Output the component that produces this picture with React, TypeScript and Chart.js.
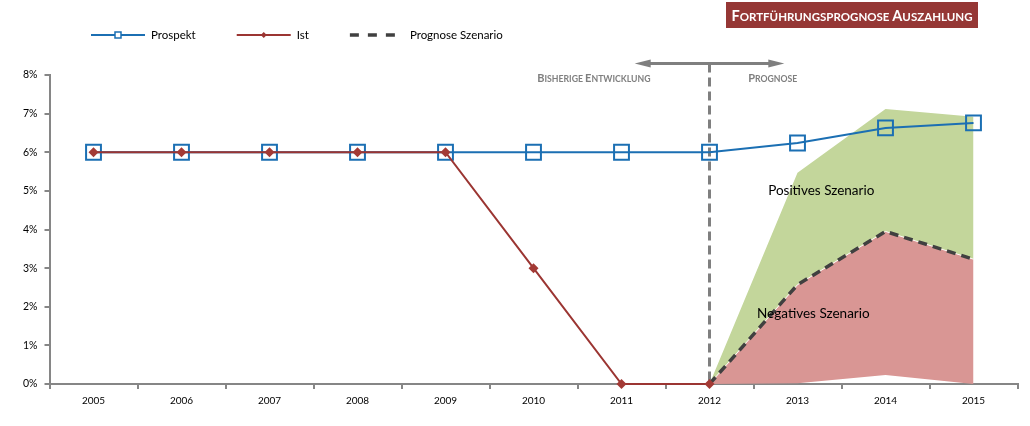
import React, { useEffect, useRef } from "react";
import { Chart, registerables } from "chart.js";

Chart.register(...registerables);

const years = ["2005", "2006", "2007", "2008", "2009", "2010", "2011", "2012", "2013", "2014", "2015"];
const prospekt = [6, 6, 6, 6, 6, 6, 6, 6, 6.24, 6.63, 6.76];
const ist = [6, 6, 6, 6, 6, 3, 0, 0, null, null, null];
const prognose = [null, null, null, null, null, null, null, 0, 2.57, 3.95, 3.23];
const negativUnten = [null, null, null, null, null, null, null, 0, 0.02, 0.23, 0];
const positivOben = [null, null, null, null, null, null, null, 0, 5.47, 7.12, 6.92];
const yMin = 0;
const yMax = 8;
const yStep = 1;

const titleText = "Fortführungsprognose Auszahlung";
const leftPhase = "Bisherige Entwicklung";
const rightPhase = "Prognose";
const posLabel = "Positives Szenario";
const negLabel = "Negatives Szenario";

const FONT = "Lato, 'Noto Sans', sans-serif";
const BLUE = "#1B6FB3";
const RED = "#9B3532";
const GREEN = "#C3D69B";
const PINK = "#D99694";
const DARK = "#404040";
const GRAY = "#868686";

function smallCaps(
  ctx: CanvasRenderingContext2D,
  text: string,
  x: number,
  y: number,
  big: number,
  small: number,
  color: string,
  align: "left" | "right" | "center"
) {
  const parts: { t: string; s: number }[] = [];
  text.split(" ").forEach((w, i) => {
    if (i > 0) parts.push({ t: " ", s: small });
    parts.push({ t: w.charAt(0).toUpperCase(), s: big });
    if (w.length > 1) parts.push({ t: w.slice(1).toUpperCase(), s: small });
  });
  let total = 0;
  const widths = parts.map((p) => {
    ctx.font = `bold ${p.s}px ${FONT}`;
    const w = ctx.measureText(p.t).width;
    total += w;
    return w;
  });
  let cx = align === "left" ? x : align === "right" ? x - total : x - total / 2;
  ctx.fillStyle = color;
  ctx.textBaseline = "alphabetic";
  ctx.textAlign = "left";
  parts.forEach((p, i) => {
    ctx.font = `bold ${p.s}px ${FONT}`;
    ctx.fillText(p.t, cx, y);
    cx += widths[i];
  });
  return total;
}

const annotPlugin = {
  id: "annotPlugin",
  beforeDatasetsDraw(chart: any) {
    const { ctx, scales } = chart;
    const x = scales.x.getPixelForValue(7);
    ctx.save();
    ctx.strokeStyle = "#7F7F7F";
    ctx.lineWidth = 3;
    ctx.setLineDash([9, 5]);
    ctx.beginPath();
    ctx.moveTo(x, scales.y.getPixelForValue(8.3));
    ctx.lineTo(x, scales.y.getPixelForValue(0));
    ctx.stroke();
    ctx.restore();
  },
  afterDraw(chart: any) {
    const { ctx, scales } = chart;
    const xs = scales.x;
    const ys = scales.y;
    ctx.save();
    // arrow
    const ay = ys.getPixelForValue(8.3);
    const ax1 = xs.getPixelForValue(7 - 0.85);
    const ax2 = xs.getPixelForValue(7 + 0.85);
    ctx.strokeStyle = "#7F7F7F";
    ctx.fillStyle = "#7F7F7F";
    ctx.lineWidth = 3;
    ctx.beginPath();
    ctx.moveTo(ax1 + 10, ay);
    ctx.lineTo(ax2 - 10, ay);
    ctx.stroke();
    ctx.beginPath();
    ctx.moveTo(ax1, ay);
    ctx.lineTo(ax1 + 16, ay - 4);
    ctx.lineTo(ax1 + 16, ay + 4);
    ctx.closePath();
    ctx.fill();
    ctx.beginPath();
    ctx.moveTo(ax2, ay);
    ctx.lineTo(ax2 - 16, ay - 4);
    ctx.lineTo(ax2 - 16, ay + 4);
    ctx.closePath();
    ctx.fill();
    // phase labels
    const ty = ys.getPixelForValue(8) + 7;
    smallCaps(ctx, leftPhase, xs.getPixelForValue(7 - 0.67), ty, 11, 8.7, "#7F7F7F", "right");
    smallCaps(ctx, rightPhase, xs.getPixelForValue(7 + 0.44), ty, 11, 8.7, "#7F7F7F", "left");
    // scenario labels
    ctx.fillStyle = "#000";
    ctx.font = `13.5px ${FONT}`;
    ctx.textAlign = "center";
    ctx.textBaseline = "middle";
    ctx.fillText(posLabel, xs.getPixelForValue(8.27), ys.getPixelForValue(5.0));
    ctx.fillText(negLabel, xs.getPixelForValue(8.18), ys.getPixelForValue(1.81));
    // title box
    ctx.fillStyle = "#953735";
    ctx.fillRect(726, 2, 252, 26);
    smallCaps(ctx, titleText, 852, 21, 14.5, 11.5, "#FFFFFF", "center");
    // legend
    let lx = 91;
    const ly = 35;
    ctx.font = `11.5px ${FONT}`;
    const items = [
      { label: chart.data.datasets[4].label, color: BLUE, dash: [], mark: "square", w: 2 },
      { label: chart.data.datasets[5].label, color: RED, dash: [], mark: "diamond", w: 2 },
      { label: chart.data.datasets[3].label, color: DARK, dash: [9, 9], mark: "", w: 3.5 },
    ];
    items.forEach((it) => {
      ctx.save();
      ctx.strokeStyle = it.color;
      ctx.lineWidth = it.w;
      ctx.setLineDash(it.dash);
      ctx.beginPath();
      ctx.moveTo(lx, ly);
      ctx.lineTo(lx + 54, ly);
      ctx.stroke();
      ctx.setLineDash([]);
      if (it.mark === "square") {
        ctx.fillStyle = "#fff";
        ctx.fillRect(lx + 24, ly - 3, 6, 6);
        ctx.lineWidth = 1.5;
        ctx.strokeRect(lx + 24, ly - 3, 6, 6);
      } else if (it.mark === "diamond") {
        ctx.fillStyle = it.color;
        ctx.beginPath();
        ctx.moveTo(lx + 27, ly - 3);
        ctx.lineTo(lx + 30, ly);
        ctx.lineTo(lx + 27, ly + 3);
        ctx.lineTo(lx + 24, ly);
        ctx.closePath();
        ctx.fill();
      }
      ctx.restore();
      ctx.fillStyle = "#000";
      ctx.font = `11.5px ${FONT}`;
      ctx.textAlign = "left";
      ctx.textBaseline = "middle";
      ctx.fillText(it.label, lx + 60, ly);
      lx += 60 + ctx.measureText(it.label).width + 41;
    });
    ctx.restore();
  },
};

export default function App() {
  const ref = useRef<HTMLCanvasElement | null>(null);
  useEffect(() => {
    if (!ref.current) return;
    const chart = new Chart(ref.current, {
      type: "line",
      data: {
        labels: years,
        datasets: [
          {
            label: "negUnten",
            data: negativUnten,
            borderWidth: 0,
            pointRadius: 0,
            fill: false,
            order: 7,
          },
          {
            label: "Negatives Szenario",
            data: prognose,
            borderColor: "rgba(255,255,255,0.9)",
            borderWidth: 1,
            pointRadius: 0,
            backgroundColor: PINK,
            fill: "-1",
            order: 5,
          },
          {
            label: "Positives Szenario",
            data: positivOben,
            borderWidth: 0,
            borderColor: "rgba(0,0,0,0)",
            pointRadius: 0,
            backgroundColor: GREEN,
            fill: "-1",
            order: 6,
          },
          {
            label: "Prognose Szenario",
            data: prognose,
            borderColor: DARK,
            borderWidth: 3.5,
            borderDash: [9, 6],
            pointRadius: 0,
            fill: false,
            order: 4,
          },
          {
            label: "Prospekt",
            data: prospekt,
            borderColor: BLUE,
            borderWidth: 2,
            pointStyle: "rect",
            pointRadius: 10.5,
            pointBorderWidth: 2,
            pointBorderColor: BLUE,
            pointBackgroundColor: "rgba(0,0,0,0)",
            fill: false,
            clip: false,
            order: 2,
          },
          {
            label: "Ist",
            data: ist,
            borderColor: RED,
            borderWidth: 2,
            pointStyle: "rectRot",
            pointRadius: 5,
            pointBorderWidth: 0,
            pointBackgroundColor: "#A33A35",
            pointBorderColor: "#A33A35",
            fill: false,
            clip: false,
            order: 1,
          },
        ],
      },
      options: {
        animation: false,
        responsive: true,
        maintainAspectRatio: false,
        layout: { padding: { top: 75, left: 16, right: 8, bottom: 13 } },
        plugins: { legend: { display: false }, tooltip: { enabled: false } },
        elements: { line: { tension: 0 } },
        scales: {
          x: {
            offset: true,
            afterFit: (scale: any) => {
              scale.paddingRight = 0;
              scale.paddingLeft = 0;
            },
            grid: { display: true, offset: true, drawOnChartArea: false, drawTicks: true, tickLength: 5, color: GRAY, lineWidth: 2 },
            border: { display: true, color: GRAY, width: 2 },
            ticks: { color: "#000", font: { family: FONT, size: 10 }, padding: 6, maxRotation: 0 },
          },
          y: {
            min: yMin,
            max: yMax,
            grid: { display: true, drawOnChartArea: false, drawTicks: true, tickLength: 5, color: GRAY, lineWidth: 2 },
            border: { display: true, color: GRAY, width: 2 },
            ticks: {
              stepSize: yStep,
              color: "#000",
              font: { family: FONT, size: 10.5 },
              padding: 7,
              callback: (v: any) => `${v}%`,
            },
          },
        },
      },
      plugins: [annotPlugin],
    });
    return () => chart.destroy();
  }, []);
  return (
    <div style={{ position: "absolute", left: 0, top: 0, width: 1030, height: 426, background: "#fff" }}>
      <canvas ref={ref} />
    </div>
  );
}
